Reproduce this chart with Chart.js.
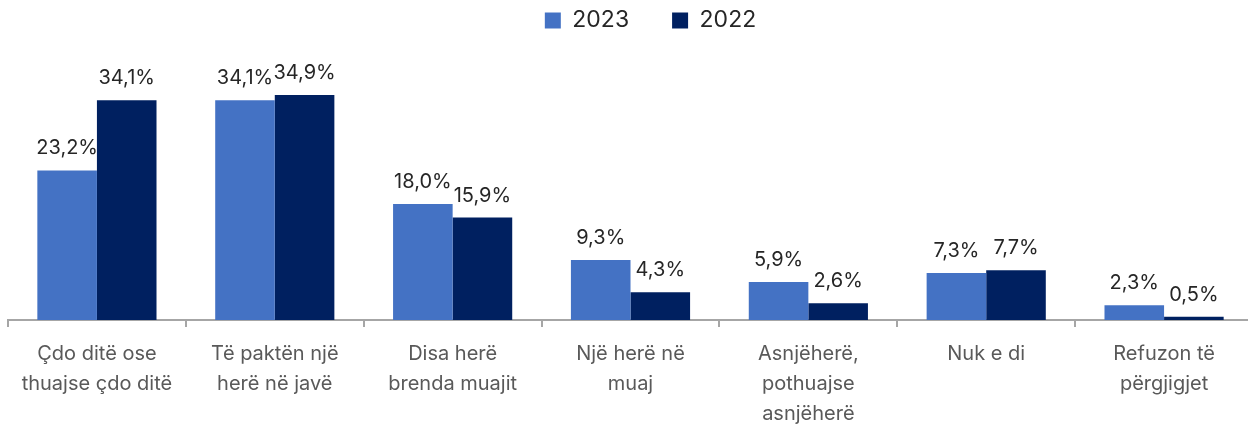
<!DOCTYPE html>
<html>
<head>
<meta charset="utf-8">
<script src="https://cdn.jsdelivr.net/npm/chart.js@4"></script>
<style>
  html, body { margin: 0; padding: 0; background: #fff; overflow: hidden; }
  #wrap { width: 1256px; height: 428px; }
</style>
</head>
<body>
<div id="wrap"><canvas id="chart"></canvas></div>
<script>
const categories = [
    ['Çdo ditë ose', 'thuajse çdo ditë'],
    ['Të paktën një', 'herë në javë'],
    ['Disa herë', 'brenda muajit'],
    ['Një herë në', 'muaj'],
    ['Asnjëherë,', 'pothuajse', 'asnjëherë'],
    ['Nuk e di'],
    ['Refuzon të', 'përgjigjet']
];
const values2023 = [23.2, 34.1, 18.0, 9.3, 5.9, 7.3, 2.3];
const values2022 = [34.1, 34.9, 15.9, 4.3, 2.6, 7.7, 0.5];

const fontFamily = 'Inter, "Noto Sans", sans-serif';

// value labels above each bar, "23,2%" style
const barLabels = {
    id: 'barLabels',
    afterDatasetsDraw(chart) {
        const ctx = chart.ctx;
        ctx.save();
        ctx.font = '20px ' + fontFamily;
        ctx.fillStyle = '#262626';
        ctx.textAlign = 'center';
        ctx.textBaseline = 'alphabetic';
        chart.data.datasets.forEach((ds, i) => {
            chart.getDatasetMeta(i).data.forEach((bar, j) => {
                const txt = ds.data[j].toFixed(1).replace('.', ',') + '%';
                ctx.fillText(txt, bar.x, bar.y - 16);
            });
        });
        ctx.restore();
    }
};

// nudge the legend up and a bit right, like the original
const legendShift = {
    id: 'legendShift',
    afterLayout(chart) {
        const lg = chart.legend;
        if (!lg) return;
        const dx = 20, dy = -34;
        lg.left += dx; lg.right += dx;
        lg.top += dy; lg.bottom += dy;
    }
};

new Chart(document.getElementById('chart'), {
    type: 'bar',
    data: {
        labels: categories,
        datasets: [
            { label: '2023', data: values2023, backgroundColor: '#4472C4' },
            { label: '2022', data: values2022, backgroundColor: '#002060' }
        ]
    },
    options: {
        responsive: true,
        maintainAspectRatio: false,
        animation: false,
        layout: { padding: { left: 8, right: 3, top: 0, bottom: -13 } },
        datasets: { bar: { barPercentage: 1, categoryPercentage: 0.67 } },
        plugins: {
            legend: {
                position: 'top',
                labels: {
                    font: { family: fontFamily, size: 23 },
                    color: '#262626',
                    boxWidth: 16,
                    boxHeight: 16,
                    padding: 43
                }
            },
            tooltip: { enabled: false }
        },
        scales: {
            x: {
                grid: {
                    offset: true,
                    drawOnChartArea: false,
                    tickLength: 7,
                    color: '#a6a6a6',
                    lineWidth: 2
                },
                border: { color: '#a6a6a6', width: 2 },
                ticks: {
                    font: { family: fontFamily, size: 20, lineHeight: 1.5 },
                    color: '#595959',
                    padding: 12,
                    maxRotation: 0,
                    autoSkip: false
                }
            },
            y: {
                display: false,
                min: 0,
                max: 37.85
            }
        }
    },
    plugins: [barLabels, legendShift]
});
</script>
</body>
</html>
